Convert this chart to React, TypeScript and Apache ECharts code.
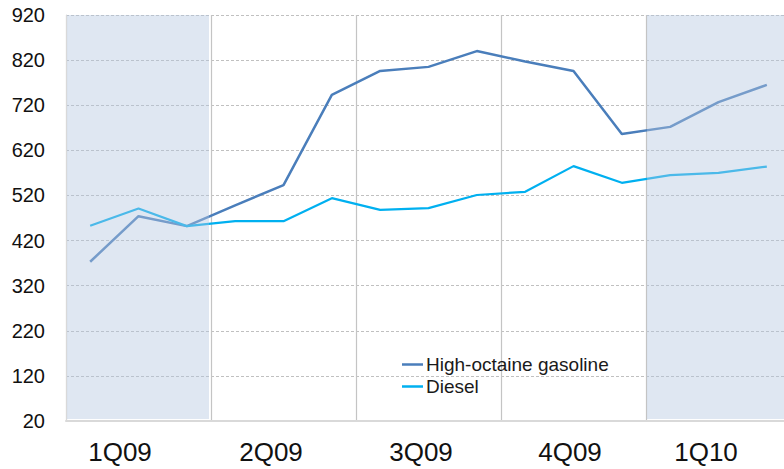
import React, { useEffect, useRef } from "react";
import * as echarts from "echarts";

const months = [
  "Jan-09", "Feb-09", "Mar-09", "Apr-09", "May-09", "Jun-09",
  "Jul-09", "Aug-09", "Sep-09", "Oct-09", "Nov-09", "Dec-09",
  "Jan-10", "Feb-10", "Mar-10",
];
const quarters = ["1Q09", "2Q09", "3Q09", "4Q09", "1Q10"];
const shadedQuarters = ["1Q09", "1Q10"];

const gasoline = [373, 474, 452, 498, 543, 743, 796, 805, 840, 817, 796, 656, 672, 727, 765];
const diesel = [453, 491, 452, 463, 463, 514, 488, 492, 521, 528, 585, 548, 565, 570, 584];

const yMin = 20;
const yMax = 920;
const yStep = 100;

// right padding (px) that nudges each quarter caption leftwards
const quarterPad = [37, 25, 15, 7, 25];

const FONT = "'Liberation Sans', Arial, sans-serif";

export default function App() {
  const ref = useRef<HTMLDivElement>(null);

  useEffect(() => {
    if (!ref.current) return;
    const chart = echarts.init(ref.current, undefined, { renderer: "svg" });

    const rich: Record<string, any> = {};
    quarters.forEach((_, i) => {
      rich["q" + i] = {
        fontSize: 26,
        fontFamily: FONT,
        color: "#111",
        padding: [0, quarterPad[i], 0, 0],
      };
    });

    chart.setOption({
      animation: false,
      backgroundColor: "#ffffff",
      textStyle: { fontFamily: FONT },
      grid: { left: 66, top: 15, right: 0, bottom: 48, containLabel: false },
      legend: {
        data: ["High-octaine gasoline", "Diesel"],
        orient: "vertical",
        left: 402,
        top: 355,
        padding: 0,
        icon: "rect",
        itemWidth: 21,
        itemHeight: 2.5,
        itemGap: 3,
        textStyle: { fontSize: 19, color: "#1a1a1a", fontFamily: FONT, padding: [0, 0, 0, -2] },
      },
      xAxis: [
        {
          type: "category",
          data: months,
          boundaryGap: true,
          show: false,
        },
        {
          type: "category",
          data: quarters,
          boundaryGap: true,
          position: "bottom",
          axisLine: { show: true, lineStyle: { color: "#d9d9d9", width: 2 } },
          axisTick: { show: false },
          axisLabel: {
            margin: 18,
            formatter: (v: string) => {
              const i = quarters.indexOf(v);
              return `{q${i}|${v}}`;
            },
            rich,
          },
          splitLine: { show: true, lineStyle: { color: "#c4c4c4", width: 1.2 } },
        },
      ],
      yAxis: {
        type: "value",
        min: yMin,
        max: yMax,
        interval: yStep,
        axisLine: { show: true, lineStyle: { color: "#d9d9d9", width: 1 } },
        axisTick: { show: false },
        axisLabel: { fontSize: 20, color: "#111", margin: 21, fontFamily: FONT },
        splitLine: { show: true, lineStyle: { color: "#c0c0c0", width: 1, type: [3, 2] } },
      },
      series: [
        {
          name: "High-octaine gasoline",
          type: "line",
          xAxisIndex: 0,
          data: gasoline,
          symbol: "none",
          z: 2,
          lineStyle: { color: "#4a7ebb", width: 2.5 },
          itemStyle: { color: "#4a7ebb" },
        },
        {
          name: "Diesel",
          type: "line",
          xAxisIndex: 0,
          data: diesel,
          symbol: "none",
          z: 2,
          lineStyle: { color: "#00b0f0", width: 2.2 },
          itemStyle: { color: "#00b0f0" },
        },
        {
          name: "shade",
          type: "custom",
          xAxisIndex: 1,
          z: 3,
          silent: true,
          data: shadedQuarters.map((q) => [q]),
          encode: { x: 0 },
          renderItem: (params: any, api: any) => {
            const c = api.coord([api.value(0), yMin]);
            const bw = api.size([1, 0])[0];
            const cs = params.coordSys;
            return {
              type: "rect",
              shape: { x: c[0] - bw / 2 + 1, y: cs.y, width: bw - 3, height: cs.height - 2 },
              style: { fill: "rgba(179,198,224,0.42)" },
            };
          },
        },
      ],
    });

    return () => chart.dispose();
  }, []);

  // the chart is a few pixels wider than the frame, so its last quarter is cut at the right edge
  return (
    <div style={{ width: 784, height: 469, position: "absolute", left: 0, top: 0, overflow: "hidden" }}>
      <div ref={ref} style={{ width: 791, height: 469 }} />
    </div>
  );
}
